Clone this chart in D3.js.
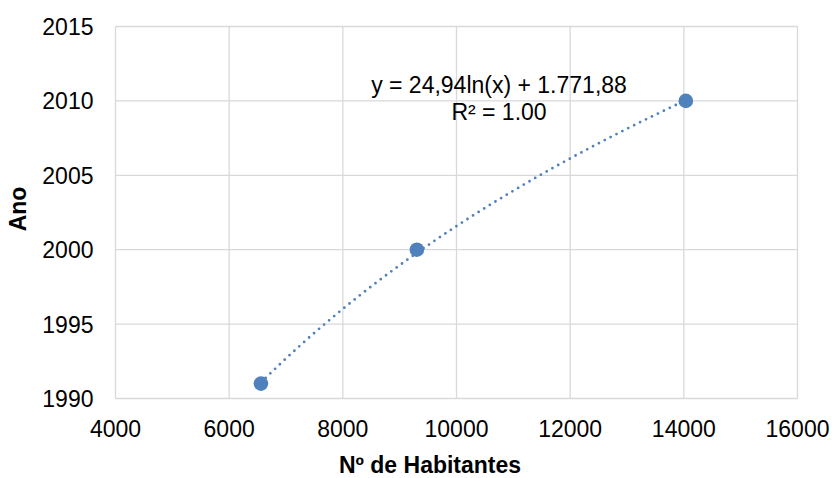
<!DOCTYPE html>
<html>
<head>
<meta charset="utf-8">
<script src="https://cdn.jsdelivr.net/npm/d3@7"></script>
<style>
  body { margin: 0; background: #fff; }
  text { font-family: "Liberation Sans", Arial, sans-serif; fill: #000; }
</style>
</head>
<body>
<div id="chart"></div>
<script>
const habitantes = [6559, 9303, 14035];
const anos = [1991, 2000, 2010];
const xTicks = [4000, 6000, 8000, 10000, 12000, 14000, 16000];
const yTicks = [1990, 1995, 2000, 2005, 2010, 2015];
// trendline coefficients: y = a*ln(x) + b
const trendA = 24.94;
const trendB = 1771.88;
const equationLines = ["y = 24,94ln(x) + 1.771,88", "R² = 1.00"];

const width = 832, height = 478;
const margin = { top: 26.5, right: 34.5, bottom: 79.5, left: 115.5 };

const svg = d3.select("#chart").append("svg")
  .attr("width", width).attr("height", height);

const x = d3.scaleLinear().domain([4000, 16000])
  .range([margin.left, width - margin.right]);
const y = d3.scaleLinear().domain([1990, 2015])
  .range([height - margin.bottom, margin.top]);

const color = "#4f81bd";
const grid = "#d9d9d9";
const fs = "23px";

// gridlines
svg.append("g").selectAll("line").data(xTicks).join("line")
  .attr("x1", d => x(d)).attr("x2", d => x(d))
  .attr("y1", y(1990)).attr("y2", y(2015))
  .attr("stroke", grid).attr("stroke-width", 1.3);
svg.append("g").selectAll("line").data(yTicks).join("line")
  .attr("x1", x(4000)).attr("x2", x(16000))
  .attr("y1", d => y(d)).attr("y2", d => y(d))
  .attr("stroke", grid).attr("stroke-width", 1.3);

// tick labels
svg.append("g").selectAll("text").data(xTicks).join("text")
  .attr("x", d => x(d)).attr("y", 437)
  .attr("text-anchor", "middle").style("font-size", fs)
  .text(d => d);
svg.append("g").selectAll("text").data(yTicks).join("text")
  .attr("x", 93.5).attr("y", d => y(d) + 8.5)
  .attr("text-anchor", "end").style("font-size", fs)
  .text(d => d);

// axis titles
svg.append("text").attr("x", 430).attr("y", 472.5)
  .attr("text-anchor", "middle").style("font-size", "23px").style("font-weight", "bold")
  .text("Nº de Habitantes");
svg.append("text")
  .attr("transform", "translate(25.5,209) rotate(-90)")
  .attr("text-anchor", "middle").style("font-size", "23px").style("font-weight", "bold")
  .text("Ano");

// trendline
const xs = d3.range(0, 101).map(i => habitantes[0] + (habitantes[2] - habitantes[0]) * i / 100);
const line = d3.line().x(d => x(d)).y(d => y(trendA * Math.log(d) + trendB));
svg.append("path").datum(xs)
  .attr("d", line).attr("fill", "none")
  .attr("stroke", color).attr("stroke-width", 2.8)
  .attr("stroke-linecap", "round").attr("stroke-dasharray", "0 6.6");

// points
svg.append("g").selectAll("circle").data(habitantes).join("circle")
  .attr("cx", d => x(d)).attr("cy", (d, i) => y(anos[i]))
  .attr("r", 7.3).attr("fill", color);

// equation
svg.append("g").selectAll("text").data(equationLines).join("text")
  .attr("x", 499).attr("y", (d, i) => 93 + i * 27)
  .attr("text-anchor", "middle").style("font-size", fs)
  .text(d => d);
</script>
</body>
</html>
